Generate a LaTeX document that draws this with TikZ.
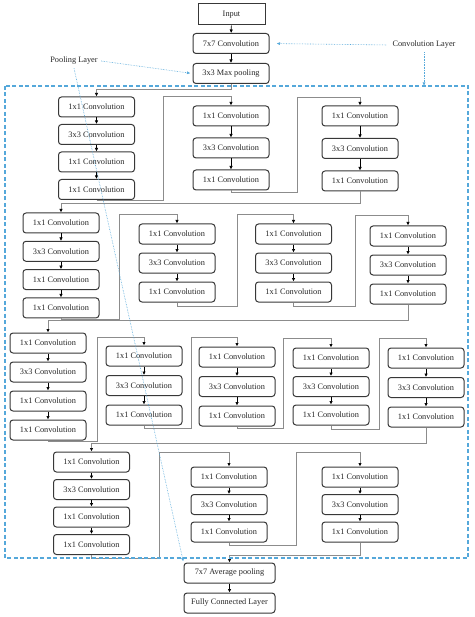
\documentclass[tikz,border=0pt]{standalone}
\usepackage{fontspec}
\setmainfont{Liberation Serif}
\usepackage{xcolor}
\usepackage{tikz}
\usetikzlibrary{positioning,arrows.meta,calc}
\definecolor{boxline}{HTML}{383838}
\definecolor{linkgray}{HTML}{8C8C8C}
\definecolor{noteblue}{HTML}{55A8DA}
\tikzset{
layer/.style={
draw=boxline,
rounded corners=3pt,
line width=1pt,
minimum width=76pt,
minimum height=20pt,
inner sep=1pt,
align=center,
fill=white,
text=black!85,
font=\fontsize{8.3}{9}\selectfont
},
widelayer/.style={
layer,
minimum width=91pt
},
notetext/.style={
text=black!85,
font=\fontsize{8.3}{9}\selectfont
},
arrow/.style={
-{Latex[length=3.5pt,width=3.5pt]},
line width=0.6pt
},
flow/.style={
draw=linkgray,
line width=0.7pt,
-{Latex[length=3.5pt,width=3.5pt,color=black]}
},
note/.style={
draw=noteblue,
densely dotted,
line width=0.6pt,
-{Latex[length=3.5pt,width=3pt]}
},
frame/.style={
draw=noteblue,
dash pattern=on 4pt off 2.5pt,
line width=1.2pt
}
}

\begin{document}
\begin{tikzpicture}[x=1pt,y=-1pt]
\useasboundingbox (0,0) rectangle (474,617);

% stem
\node[layer,sharp corners,minimum width=67pt,minimum height=21pt](input) at (231.5,14.5){Input};
\node[layer](conv7) at (231,43.5){7x7 Convolution};
\node[layer](maxpool) at (231,73.5){3x3 Max pooling};

% stage 1
\node[layer](s1a1) at (96.5,107){1x1 Convolution};
\node[layer,below=6.5pt of s1a1](s1a2){3x3 Convolution};
\node[layer,below=6.5pt of s1a2](s1a3){1x1 Convolution};
\node[layer,below=6.5pt of s1a3](s1a4){1x1 Convolution};
\node[layer](s1b1) at (231,116){1x1 Convolution};
\node[layer,below=11pt of s1b1](s1b2){3x3 Convolution};
\node[layer,below=11pt of s1b2](s1b3){1x1 Convolution};
\node[layer](s1c1) at (360,116){1x1 Convolution};
\node[layer,below=11.5pt of s1c1](s1c2){3x3 Convolution};
\node[layer,below=11.5pt of s1c2](s1c3){1x1 Convolution};

% stage 2
\node[layer](s2a1) at (61,223){1x1 Convolution};
\node[layer,below=7.3pt of s2a1](s2a2){3x3 Convolution};
\node[layer,below=7.3pt of s2a2](s2a3){1x1 Convolution};
\node[layer,below=7.3pt of s2a3](s2a4){1x1 Convolution};
\node[layer](s2b1) at (177,234){1x1 Convolution};
\node[layer,below=8pt of s2b1](s2b2){3x3 Convolution};
\node[layer,below=8pt of s2b2](s2b3){1x1 Convolution};
\node[layer](s2c1) at (293.5,234){1x1 Convolution};
\node[layer,below=8pt of s2c1](s2c2){3x3 Convolution};
\node[layer,below=8pt of s2c2](s2c3){1x1 Convolution};
\node[layer](s2d1) at (408,236){1x1 Convolution};
\node[layer,below=8pt of s2d1](s2d2){3x3 Convolution};
\node[layer,below=8pt of s2d2](s2d3){1x1 Convolution};

% stage 3
\node[layer](s3a1) at (48,343){1x1 Convolution};
\node[layer,below=8pt of s3a1](s3a2){3x3 Convolution};
\node[layer,below=8pt of s3a2](s3a3){1x1 Convolution};
\node[layer,below=8pt of s3a3](s3a4){1x1 Convolution};
\node[layer](s3b1) at (144,356){1x1 Convolution};
\node[layer,below=8.5pt of s3b1](s3b2){3x3 Convolution};
\node[layer,below=8.5pt of s3b2](s3b3){1x1 Convolution};
\node[layer](s3c1) at (237,357){1x1 Convolution};
\node[layer,below=8.5pt of s3c1](s3c2){3x3 Convolution};
\node[layer,below=8.5pt of s3c2](s3c3){1x1 Convolution};
\node[layer](s3d1) at (331,358){1x1 Convolution};
\node[layer,below=7.5pt of s3d1](s3d2){3x3 Convolution};
\node[layer,below=7.5pt of s3d2](s3d3){1x1 Convolution};
\node[layer](s3e1) at (426,358){1x1 Convolution};
\node[layer,below=8.5pt of s3e1](s3e2){3x3 Convolution};
\node[layer,below=8.5pt of s3e2](s3e3){1x1 Convolution};

% stage 4
\node[layer](s4a1) at (91.5,462){1x1 Convolution};
\node[layer,below=6.5pt of s4a1](s4a2){3x3 Convolution};
\node[layer,below=6.5pt of s4a2](s4a3){1x1 Convolution};
\node[layer,below=6.5pt of s4a3](s4a4){1x1 Convolution};
\node[layer](s4b1) at (229,477){1x1 Convolution};
\node[layer,below=6.5pt of s4b1](s4b2){3x3 Convolution};
\node[layer,below=6.5pt of s4b2](s4b3){1x1 Convolution};
\node[layer](s4c1) at (360,477){1x1 Convolution};
\node[layer,below=6.5pt of s4c1](s4c2){3x3 Convolution};
\node[layer,below=6.5pt of s4c2](s4c3){1x1 Convolution};

% head
\node[widelayer](avgpool) at (229.5,573){7x7 Average pooling};
\node[widelayer](fc) at (229.5,603){Fully Connected Layer};

\foreach \x/\y in {input/conv7,conv7/maxpool,
s1a1/s1a2,s1a2/s1a3,s1a3/s1a4,s1b1/s1b2,s1b2/s1b3,s1c1/s1c2,s1c2/s1c3,
s2a1/s2a2,s2a2/s2a3,s2a3/s2a4,s2b1/s2b2,s2b2/s2b3,s2c1/s2c2,s2c2/s2c3,s2d1/s2d2,s2d2/s2d3,
s3a1/s3a2,s3a2/s3a3,s3a3/s3a4,s3b1/s3b2,s3b2/s3b3,s3c1/s3c2,s3c2/s3c3,s3d1/s3d2,s3d2/s3d3,s3e1/s3e2,s3e2/s3e3,
s4a1/s4a2,s4a2/s4a3,s4a3/s4a4,s4b1/s4b2,s4b2/s4b3,s4c1/s4c2,s4c2/s4c3,
avgpool/fc}
\draw[arrow](\x)--(\y);

% block to block
\draw[flow](maxpool.south)--++(0,5)-|(s1a1.north);
\draw[flow](s1a4.south)|-(163,200)|-([yshift=9pt]s1b1.north)--(s1b1.north);
\draw[flow](s1b3.south)|-(297,192)|-([yshift=8pt]s1c1.north)--(s1c1.north);
\draw[flow](s1c3.south)|-([yshift=9pt]s2a1.north)--(s2a1.north);
\draw[flow](s2a4.south)|-(119,319)|-([yshift=9pt]s2b1.north)--(s2b1.north);
\draw[flow](s2b3.south)|-(237,306)|-([yshift=9pt]s2c1.north)--(s2c1.north);
\draw[flow](s2c3.south)|-(355,306)|-([yshift=10pt]s2d1.north)--(s2d1.north);
\draw[flow](s2d3.south)|-([yshift=12pt]s3a1.north)--(s3a1.north);
\draw[flow](s3a4.south)|-(97,441)|-([yshift=8pt]s3b1.north)--(s3b1.north);
\draw[flow](s3b3.south)|-(191,428)|-([yshift=9pt]s3c1.north)--(s3c1.north);
\draw[flow](s3c3.south)|-(283,428)|-([yshift=9pt]s3d1.north)--(s3d1.north);
\draw[flow](s3d3.south)|-(379,429)|-([yshift=9pt]s3e1.north)--(s3e1.north);
\draw[flow](s3e3.south)|-([yshift=8pt]s4a1.north)--(s4a1.north);
\draw[flow](s4a4.south)|-(159,558)|-([yshift=14pt]s4b1.north)--(s4b1.north);
\draw[flow](s4b3.south)|-(296,545)|-([yshift=14pt]s4c1.north)--(s4c1.north);
\draw[flow](s4c3.south)|-([yshift=7pt]avgpool.north)--(avgpool.north);

% labels
\coordinate(fnw) at (5,86);
\coordinate(fse) at (468,558);
\draw[frame](fnw) rectangle (fse);
\node[notetext](convnote) at (424,45){Convolution Layer};
\node[notetext](poolnote) at (74,61){Pooling Layer};
\draw[note,shorten <=3pt,shorten >=7pt](convnote.west)--(conv7.east);
\draw[note](convnote.south)--(convnote.south|-fnw);
\draw[note,shorten >=2pt](poolnote.east)--(maxpool.west);
\draw[note,shorten >=1pt](poolnote.south)--(avgpool.north west);
\end{tikzpicture}
\end{document}
